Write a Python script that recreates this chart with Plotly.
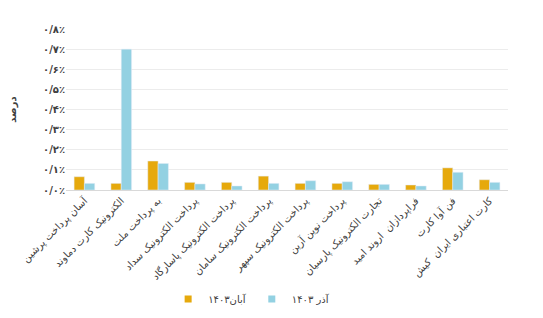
import plotly.graph_objects as go

categories = [
    "آسان پرداخت پرشین",
    "الکترونیک کارت دماوند",
    "به پرداخت ملت",
    "پرداخت الکترونیک سداد",
    "پرداخت الکترونیک پاسارگاد",
    "پرداخت الکترونیک سامان",
    "پرداخت الکترونیک سپهر",
    "پرداخت نوین آرین",
    "تجارت الکترونیک پارسیان",
    "فراپردازان  اروند امید",
    "فن آوا کارت",
    "کارت اعتباری ایران  کیش",
]
aban_1403 = [0.066, 0.033, 0.144, 0.038, 0.038, 0.069, 0.033, 0.033, 0.028, 0.025, 0.11, 0.051]
azar_1403 = [0.033, 0.70, 0.132, 0.030, 0.020, 0.033, 0.046, 0.041, 0.028, 0.020, 0.088, 0.038]
series_names = ["آبان۱۴۰۳", "آذر ۱۴۰۳"]
series_colors = ["#E6A90C", "#93D1E2"]

tick_vals = [0, 0.1, 0.2, 0.3, 0.4, 0.5, 0.6, 0.7, 0.8]
tick_text = ["۰/۰٪", "۰/۱٪", "۰/۲٪", "۰/۳٪", "۰/۴٪", "۰/۵٪", "۰/۶٪", "۰/۷٪", "۰/۸٪"]

font_family = "DejaVu Sans"

fig = go.Figure()
for name, vals, col in zip(series_names, [aban_1403, azar_1403], series_colors):
    fig.add_trace(go.Bar(x=categories, y=vals, name=name, marker_color=col,
                         showlegend=False, legendgroup=name))
for name, col in zip(series_names, series_colors):
    fig.add_trace(go.Scatter(x=[None], y=[None], mode="markers", name=name,
                             marker=dict(symbol="square", size=7, color=col),
                             legendgroup=name, showlegend=True))

fig.update_layout(
    width=543, height=318,
    margin=dict(l=66, r=35, t=29, b=128, autoexpand=False),
    paper_bgcolor="white", plot_bgcolor="white",
    barmode="group", bargap=0.44, bargroupgap=0,
    font=dict(family=font_family, color="#404040", size=10),
    showlegend=True,
    legend=dict(orientation="h", x=0.42, xanchor="center", yref="container", y=0.06, yanchor="middle",
                font=dict(size=10, color="#404040"), itemwidth=30, traceorder="normal"),
    xaxis=dict(tickangle=-45, tickfont=dict(size=10, color="#404040"), showgrid=False,
               showline=True, linecolor="#d9d9d9", linewidth=1, ticks="", automargin=False),
    yaxis=dict(range=[0, 0.8], tickvals=tick_vals, ticktext=["<b>" + t + "</b>" for t in tick_text],
               tickfont=dict(size=10, color="#404040"), showgrid=True, gridcolor="#ececec",
               zeroline=False, showline=False, automargin=False,
               title=dict(text="<b>درصد</b>", font=dict(size=10, color="#404040"), standoff=24)),
)

fig.write_html("out.html")
